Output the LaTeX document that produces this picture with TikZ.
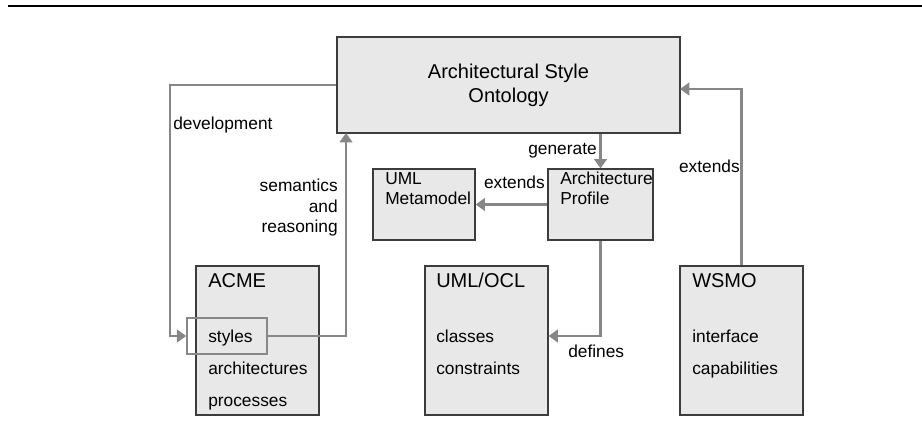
\documentclass[tikz,border=0pt]{standalone}
\usepackage{fontspec}
\setmainfont{Liberation Sans}
\usepackage{tikz}
\usetikzlibrary{arrows.meta}
\usetikzlibrary{positioning}

\definecolor{boxfill}{HTML}{E8E8E8}
\definecolor{linkgray}{HTML}{878787}
\definecolor{boxline}{HTML}{3C3C3C}

\begin{document}
\begin{tikzpicture}[x=0.75pt,y=-0.75pt]
\def\pxu{0.75pt}
\tikzstyle{box}=[draw=boxline, line width=0.9pt, fill=boxfill, inner sep=0pt];
\tikzstyle{selbox}=[draw=linkgray, line width=1.1pt, inner sep=0pt];
\tikzstyle{link}=[draw=linkgray, line width=1.7pt, -{Triangle[width=9.5pt,length=7pt]}];
\tikzstyle{lbl}=[inner sep=0pt, font=\fontsize{13}{15.4}\selectfont];
\tikzstyle{ttl}=[inner sep=0pt, font=\fontsize{15}{18}\selectfont, anchor=base west];
\tikzstyle{item}=[inner sep=0pt, font=\fontsize{13}{15}\selectfont, anchor=base west];

\useasboundingbox (0,0) rectangle (922,445);
\draw[line width=1pt] (8,6) -- (922,6); % top rule

% the ontology
\node[box, align=center, font=\fontsize{15}{18}\selectfont, minimum width=343*\pxu, minimum height=96*\pxu] (onto) at (508.5,85) {Architectural Style\\Ontology};

% metamodel and profile (base = last line)
\node[box, minimum width=102*\pxu, minimum height=71*\pxu] (meta) at (424,204.5) {};
\node[item, align=left] (metat) at (385,205) {UML\\Metamodel};
\node[box, minimum width=105*\pxu, minimum height=71*\pxu] (prof) at (600.5,204.5) {};
\node[item, align=left] (proft) at (560,205) {Architecture\\Profile};

% ACME
\node[box, minimum width=123*\pxu, minimum height=149*\pxu] (acme) at (257.5,340.5) {};
\node[ttl] (acmet) at (208,288) {ACME};
\node[item] (acme1) at (208,343) {styles};
\node[item] (acme2) at (208,375) {architectures};
\node[item] (acme3) at (208,407) {processes};
\node[selbox, minimum width=80*\pxu, minimum height=36*\pxu] (styles) at (227,336) {};

% UML/OCL
\node[box, minimum width=123*\pxu, minimum height=149*\pxu] (uocl) at (486.5,340.5) {};
\node[ttl] (uoclt) at (436,288) {UML/OCL};
\node[item] (uocl1) at (436,343) {classes};
\node[item] (uocl2) at (436,375) {constraints};

% WSMO
\node[box, minimum width=123*\pxu, minimum height=149*\pxu] (wsmo) at (741.5,340.5) {};
\node[ttl] (wsmot) at (692,288) {WSMO};
\node[item] (wsmo1) at (692,343) {interface};
\node[item] (wsmo2) at (692,375) {capabilities};

% connectors
\coordinate (devturn) at (170,85);
\coordinate (semtop) at (346,133);
\coordinate (wstop) at (680,89);

\draw[link] (onto.west) -- (devturn) |- (styles.west);
\draw[link] (styles.east) -| (semtop);
\draw[link] (prof.north |- onto.south) -- (prof.north);
\draw[link] (prof.west) -- (meta.east);
\draw[link] (prof.south) |- (uocl.east |- styles.east);
\draw[link] (wsmo.north) |- (wstop);

% labels
\node[lbl, anchor=base west] (ldev) at (173,130) {development};
\node[lbl, anchor=base east, align=right] (lsem) at (338,233) {semantics\\and\\reasoning};
\node[lbl, anchor=base east] (lgen) at (597,155) {generate};
\node[lbl, anchor=base east] (lext) at (545,189) {extends};
\node[lbl, anchor=base west] (ldef) at (568,358) {defines};
\node[lbl, anchor=base east] (lwext) at (740,173) {extends};

\end{tikzpicture}
\end{document}
